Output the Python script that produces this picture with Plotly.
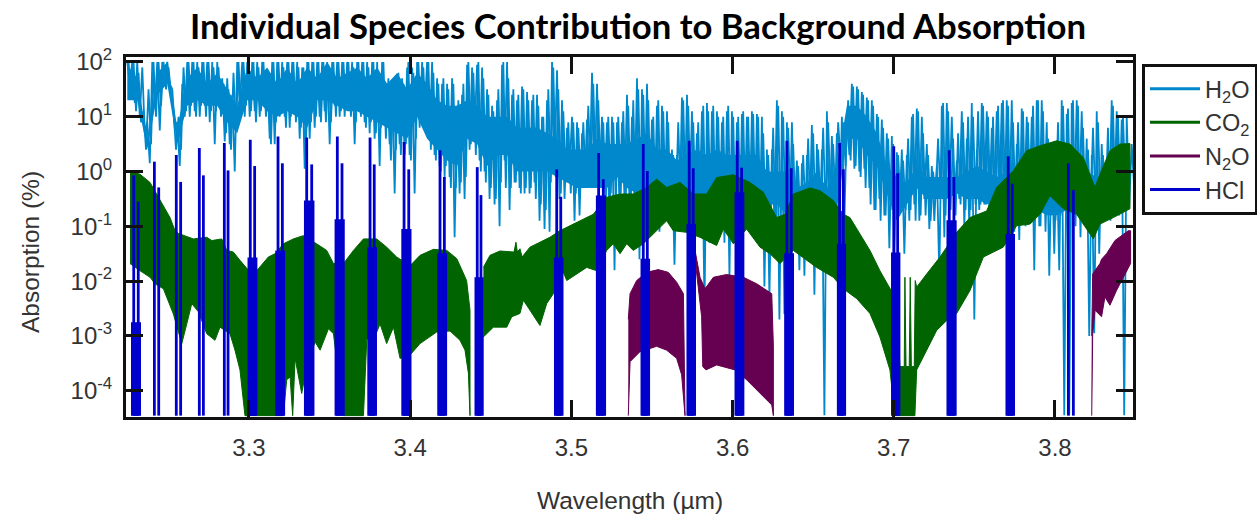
import numpy as np
import plotly.graph_objects as go

# All absorption values below are log10(absorption %).
FLOOR = -4.455
START_UM = 3.2245
STEP_UM = 0.0031

h2o_peak = [2,2,2,1.9,.9,2,2,2,2,1.5,.9,1.6,2,2,2,2,2,2,2,1.7,1.7,1.4,2,2,2,2,2,2,1.8,2,
 2,2,2,2,2,1.9,2,2,2,2,2,2,2,2,2,2,2,2,2,2,2,2,1.6,1.6,1.7,1.7,1.9,1.9,2,2,
 2,2,1.7,1.6,1.6,1.7,1.2,1.4,1.95,1.9,1.95,1.9,1.5,1.2,1.3,1.95,2,1.4,1.3,1.55,1.45,1.3,1.4,1.0,1.3,2,1.85,1.3,.8,1.0,
 .9,.7,.95,1.8,1.6,1.0,.9,1.0,.9,.9,1.4,1.0,1.7,1.5,1.6,.95,1.2,1.2,1.1,.4,.3,1.35,1.4,1.1,.7,1.1,1.25,1.1,1.1,.9,
 1.1,1.1,.9,1.05,1.0,1.1,1.05,1.0,.4,.4,1.3,1.1,.9,.9,.2,.15,.3,.85,.5,.4,1.1,.65,.7,1.0,1.0,1.6,1.55,1.45,1.35,1.3,
 1.05,.95,.7,.65,.35,.4,.3,1.0,1.15,1.0,.5,.1,.1,1.2,1.25,1.0,.2,1.1,.6,1.25,.4,1.25,1.1,.8,1.1,1.25,1.3,1.3,.5,1.15,
 1.0,1.0,1.3,1.3,.9,.4,.3,1.3,1.05,1.25,1.3,1.1,.6,.3,1.1,.5,.1,1.3,1.1,.95,1.0,.5]
h2o_dip = [1.6,1.25,1.0,.7,.15,1.15,.75,1.6,1.6,.8,.1,1.0,1.0,1.1,1.0,1.2,.9,.5,1.2,.55,.5,0,1.2,1.0,1.0,1.1,1.0,1.3,.6,.5,
 1.0,1.0,.8,1.1,.6,.05,.6,.8,1.0,1.1,.5,1.2,1.0,1.0,1.3,.5,1.1,.9,.7,.6,.1,1.1,.5,-.4,.5,.3,.3,-.4,.8,1.1,
 .6,.3,.1,-.1,-.1,-1.2,-.4,-.5,.4,.7,.2,0,-.5,-.6,-1.0,.2,-.7,-.2,-.3,-.4,-.4,-.2,-.9,-1.05,-1.1,.2,-.5,-.5,0,-.9,
 -.8,-.3,-.2,-.1,-.1,-.3,-.9,-1.8,-.6,-.5,-.6,-.6,-1.6,-.7,-.5,-.8,-1.1,-.9,-.9,-1.7,-.8,-.8,-.6,-.6,-.8,-2.5,-1.3,-1.3,-1.2,-1.3,
 -1.9,-1.3,-1.3,-1.0,-1.0,-1.2,-1.3,-2.1,-2.3,-.9,-2.7,-2.6,-1.2,-.8,-1.8,-1.9,-1.0,-2.25,-1.3,-4.45,-1.0,-1.0,-1.0,-.9,.3,.05,0,.05,-.3,-.7,
 -.5,-.8,-1.4,-1.5,-.8,-1.5,-.9,-.6,-.9,-.5,-1.05,-.9,-1.9,-1.2,-.4,-.6,-.5,-1.0,-1.0,-2.7,-.7,-.6,-.7,-.5,-.5,-1.0,-.8,-1.1,-1.25,-.6,
 -.7,-1.8,-1.0,-.6,-1.9,-1.5,-1.8,-4.45,-4.45,-.7,-.5,-.9,-3.0,-2.95,-1.5,-.9,-.7,-.6,-.8,-4.45,-.6,-.3]
# second reading, between the peaks above
h2o_peak2 = [2,2,1.8,1.1,1.5,2,2,2,1.9,1.1,1.0,1.9,2,2,1.9,2,2,1.9,1.9,1.6,1.5,1.8,2,2,2,2,1.9,2,1.7,2,
 2,1.9,2,2,1.9,1.9,2,2,2,2,1.9,2,2,2,2,1.9,2,2,1.9,2,1.7,2,1.7,1.5,1.8,1.6,2,1.8,2,1.9,
 2,1.8,1.6,1.7,1.5,1.6,1.3,1.6,2,1.8,2,1.7,1.4,1.1,1.5,2,1.7,1.5,1.4,1.5,1.3,1.4,1.2,1.0,1.5,1.9,1.5,1.1,.9,.9,
 .8,.9,1.2,1.6,1.3,.9,1.0,.9,1.0,1.1,1.2,1.3,1.5,1.4,1.3,1.0,1.3,1.1,.9,.3,.9,1.3,1.2,.9,.9,1.2,1.1,1.2,1.0,1.0,
 1.2,1.0,1.0,1.1,1.0,1.05,1.0,.7,.3,.8,1.2,1.0,.8,.5,.1,.3,.6,.7,.4,.8,.9,.5,.9,.9,1.3,1.55,1.5,1.4,1.3,1.2,
 1.0,.8,.6,.5,.3,.2,.6,1.05,1.1,.7,.3,.0,.6,1.25,1.1,.6,.7,.9,1.0,1.0,1.1,1.2,1.0,1.0,1.2,1.3,1.2,.9,.9,1.1,
 .9,1.2,1.3,1.1,.6,.2,.9,1.2,1.15,1.3,1.2,.8,.4,.8,.9,.3,.8,1.2,1.0,1.0,.9,.6]
h2o_dip2 = [1.4,1.1,.9,.4,.5,1.0,1.2,1.5,1.4,.4,.4,1.1,1.2,1.0,1.2,1.0,1.1,1.1,1.0,.7,.4,.8,1.1,1.2,1.1,.9,1.1,1.0,.5,.9,
 1.1,.8,1.0,.9,.8,.5,.9,1.0,.9,.9,.9,1.0,1.1,1.2,1.0,.9,1.0,.8,.9,.7,.8,.6,.2,.4,.3,.5,.2,.6,.9,.7,
 .4,.2,.0,.1,-.3,-.3,-.2,-.1,.5,.3,.0,-.2,-.3,-.5,-.2,-.3,-.3,-.2,-.4,-.3,-.3,-.5,-.6,-.7,-.2,-.1,-.4,-.2,-.4,-.4,
 -.3,-.2,-.1,-.2,-.2,-.6,-.4,-.5,-.4,-.5,-.6,-.7,-.5,-.6,-.6,-.7,-.7,-.8,-1.0,-.7,-.6,-.7,-.6,-.7,-1.0,-1.0,-.9,-1.0,-.9,-1.0,
 -1.0,-1.1,-.9,-1.0,-.9,-1.0,-1.2,-.9,-.8,-1.2,-.9,-1.0,-.7,-.9,-1.0,-.8,-1.0,-1.0,-.7,-.8,-.5,-.6,.2,.1,.2,.1,-.1,-.3,
 -.6,-.7,-.9,-.8,-.7,-.8,-.6,-.7,-.7,-.9,-.8,-.8,-.9,-.5,-.5,-.8,-.7,-.8,-.6,-.7,-.7,-.6,-.6,-.6,-.8,-.9,-.8,-.9,-.9,-.7,
 -.7,-1.0,-.8,-.7,-1.0,-1.1,-.8,-.9,-.8,-.6,-.7,-1.0,-1.2,-.8,-.8,-.6,-.6,-.7,-.9,-.7,-.5,-.3]
h2o_body_top = [1.95,1.7,.6,1.8,2,.8,1.7,1.9,1.6,1.8,1.5,1.2,1.9,1.7,1.9,1.6,1.9,1.6,1.9,1.7,2,1.7,1.8,1.9,1.7,1.9,1.6,1.8,1.5,1.8,
 1.6,1.3,1.2,1.2,1.3,1.2,1.0,1.0,1.0,.8,.8,.8,.7,.6,.4,.4,.4,.6,.5,.5,.5,.6,.7,.4,.4,.2,.3,.4,.3,.4,
 .3,.3,.3,.3,.0,.0,.0,-.3,-.2,.0,-.3,.1,1.2,1.2,1.0,.7,.1,-.1,-.2,.1,-.1,-.1,-.1,-.1,0,.1,0,-.1,0,-.2,
 0,-.3,-.2,-.3,0,-.1,0,-.1,-.1,0,-.1]
h2o_body_bottom = [1.3,1.3,.4,1.4,1.6,.5,1.2,1.3,1.2,1.2,.9,.7,1.3,1.3,1.1,1.0,1.1,1.0,.8,1.3,1.3,1.2,1.1,1.1,1.0,.9,.8,.7,.6,1.0,
 .6,.4,.2,.1,.6,.5,.1,.3,.3,0,0,0,0,-.1,-.2,-.3,-.3,-.3,-.3,-.1,-.3,-.4,-.5,-.6,-.5,-.6,-.6,-.6,-.6,-.6,
 -.7,-.7,-.7,-.8,-.6,-.6,-.8,-.7,-.7,-.5,-.6,-.7,.6,.6,.3,.1,-.4,-.9,-.6,-.3,-.5,-.5,-.5,-.4,-.5,-.5,-.6,-.5,-.6,-.5,
 -.7,-.7,-.8,-.8,-.7,-.5,-.5,-.5,-.6,-.5,-.3]

co2a_top_x = [3.2262,3.2324,3.2386,3.2448,3.2510,3.2541,3.2562,3.2655,3.2738,3.2769,3.2831,3.2862,3.2903,3.2944,3.2990,3.3048,3.3120,3.3162,3.3213,3.3275,3.3337,3.3420,3.3482,3.3524,3.3586,3.3648,3.3710,3.3792,3.3854,3.3916,3.3999,3.4061,3.4144,3.4227,3.4289,3.4309,3.4350,3.4371]
co2a_top = [.01,-.05,-.2,-.53,-.84,-1.08,-1.13,-1.23,-1.2,-1.26,-1.23,-1.44,-1.47,-1.62,-1.78,-1.81,-1.56,-1.5,-1.32,-1.23,-1.17,-1.32,-1.44,-1.68,-1.68,-1.44,-1.23,-1.23,-1.38,-1.56,-1.72,-1.53,-1.42,-1.44,-1.59,-1.72,-1.99,-2.53]
co2a_low_x = [3.2262,3.2324,3.2386,3.2417,3.2469,3.2531,3.2583,3.2614,3.2645,3.2686,3.2738,3.2789,3.2820,3.2882,3.2913,3.2944,3.2975,3.3069,3.3213,3.3234,3.3255,3.3271,3.3286,3.3327,3.3358,3.3410,3.3441,3.3493,3.3524,3.3586,3.3710,3.3731,3.3772,3.3813,3.3854,3.3896,3.3937,3.3999,3.4061,3.4164,3.4247,3.4309,3.4340,3.4361,3.4371]
co2a_low = [-1.68,-1.81,-1.93,-2.05,-2.14,-2.6,-3.14,-2.78,-2.41,-2.56,-2.96,-3.08,-2.84,-2.96,-3.26,-3.62,FLOOR,FLOOR,FLOOR,-3.8,-3.75,FLOOR,-3.41,-4.05,-3.56,-3.11,-3.26,-2.87,-2.96,FLOOR,FLOOR,-3.05,-3.08,-2.78,-3.14,-2.84,-3.41,-3.35,-3.14,-2.93,-2.91,-3.08,-3.26,-3.68,FLOOR]

co2b_top_x = [3.4454,3.4495,3.4557,3.4619,3.4644,3.4656,3.4665,3.4681,3.4694,3.4743,3.4805,3.4867,3.4929,3.4991,3.5053,3.5136,3.5219,3.5302,3.5385,3.5467,3.5529,3.5591,3.5674,3.5757,3.5839,3.5901,3.6005,3.6108,3.6191,3.6273,3.6325,3.6377,3.6480,3.6542,3.6625,3.6687,3.6728,3.6790,3.6852,3.6914,3.6976,3.7018,3.7038,3.7065,3.7069,3.7076,3.7096,3.7102,3.7109,3.7127,3.7133,3.7142,3.7204,3.7287,3.7390,3.7473,3.7576,3.7638,3.7741,3.7824,3.7907,3.8010,3.8093,3.8176,3.8248,3.8279,3.8341,3.8403,3.8465]
co2b_top = [-1.75,-1.53,-1.45,-1.46,-1.47,-1.29,-1.47,-1.41,-1.56,-1.38,-1.29,-1.2,-1.08,-.99,-.9,-.78,-.47,-.41,-.41,-.29,-.14,-.29,-.2,-.41,-.41,-.11,-.06,-.2,-.38,-.84,-.78,-.41,-.3,-.35,-.53,-.78,-.84,-1.14,-1.44,-1.81,-2.14,-2.35,-3.56,-3.56,-1.93,-3.56,-3.56,-1.93,-3.56,-3.56,-1.99,-2.11,-1.87,-1.56,-1.11,-.84,-.72,-.29,.01,.38,.47,.56,.5,.25,-.29,-.05,.38,.5,.51]
co2b_low_x = [3.4454,3.4516,3.4599,3.4630,3.4681,3.4702,3.4743,3.4805,3.4847,3.4888,3.4929,3.4971,3.5033,3.5095,3.5157,3.5219,3.5260,3.5302,3.5343,3.5384,3.5446,3.5550,3.5591,3.5632,3.5715,3.5798,3.5839,3.5901,3.5943,3.6005,3.6087,3.6170,3.6232,3.6294,3.6377,3.6460,3.6521,3.6625,3.6687,3.6770,3.6852,3.6914,3.6976,3.7007,3.7131,3.7142,3.7204,3.7266,3.7328,3.7390,3.7473,3.7556,3.7618,3.7679,3.7762,3.7845,3.7907,3.7969,3.8052,3.8134,3.8238,3.8279,3.8362,3.8465]
co2b_low = [-3.02,-2.84,-2.84,-2.65,-2.59,-2.35,-2.53,-2.81,-2.41,-2.23,-1.68,-1.99,-1.87,-1.75,-1.81,-1.44,-1.32,-1.5,-1.32,-1.44,-1.32,-1.02,-.9,-1.08,-1.11,-1.2,-1.26,-1.35,-1.05,-1.32,-1.05,-1.38,-1.5,-1.68,-1.44,-1.62,-1.75,-1.93,-2.14,-2.32,-2.59,-3.02,-3.62,FLOOR,FLOOR,-3.62,-3.26,-2.9,-2.72,-2.59,-2.17,-1.56,-1.47,-1.38,-.99,-.96,-.78,-.44,-.68,-.78,-1.23,-.96,-.84,-.68]

n2oa_top_x = [3.5353,3.5364,3.5405,3.5467,3.5539,3.5601,3.5653,3.5695]
n2oa_top = [-2.7,-2.23,-1.99,-1.84,-1.79,-1.84,-2.02,-2.23]
n2oa_low_x = [3.5353,3.5364,3.5425,3.5529,3.5591,3.5653,3.5684,3.5705]
n2oa_low = [FLOOR,-3.47,-3.29,-3.19,-3.26,-3.41,-3.71,FLOOR]
n2ob_top_x = [3.5767,3.5798,3.5829,3.5881,3.5963,3.6067,3.6150,3.6243,3.6253]
n2ob_top = [-1.44,-1.93,-2.14,-1.93,-1.88,-1.93,-2.05,-2.23,-3.19]
n2ob_low_x = [3.5767,3.5808,3.5815,3.5835,3.5901,3.6015,3.6087,3.6170,3.6243,3.6253]
n2ob_low = [-1.6,-2.65,-3.56,-3.62,-3.53,-3.62,-3.8,-4.05,-4.26,FLOOR]
n2oc_top_x = [3.8228,3.8234,3.8279,3.8289,3.8320,3.8372,3.8455,3.8469]
n2oc_top = [-3.0,-1.87,-1.68,-1.6,-1.5,-1.26,-1.08,-1.08]
n2oc_low_x = [3.8228,3.8234,3.8248,3.8289,3.8310,3.8341,3.8382,3.8424,3.8469]
n2oc_low = [FLOOR,-2.96,-2.53,-2.65,-2.29,-2.44,-2.17,-1.93,-1.68]

hcl_x1 = [3.2285,3.2413,3.2549,3.2692,3.2847,3.3008,3.3180,3.3358,3.3548,3.3751,3.3962,3.4185,3.4416,3.4909,3.5169,3.5446,3.5731,3.6029,3.6337,3.6664,3.7000,3.7344,3.7710,3.8083]
hcl_x2 = [3.2313,3.2440,3.2576,3.2717,3.2870,3.3035,3.3207,3.3389,3.3577,3.3777,3.3991,3.4212,3.4439,3.4934,3.5198,3.5471,3.5756,3.6056,3.6364,3.6687,3.7024,3.7373,3.7735,3.8114]
hcl_y1 = [-.07,.18,.3,.43,.52,.58,.64,.62,.64,.62,.54,.39,.08,.04,.34,.5,.56,.56,.56,.52,.46,.39,.28,.15]
hcl_y2 = [-.55,-.29,-.19,-.07,.02,.1,.15,.13,.15,.13,.04,-.1,-.43,-.46,-.14,.01,.06,.07,.06,.04,-.03,-.1,-.22,-.34]
hcl_merge = [-2.8,FLOOR,FLOOR,FLOOR,FLOOR,-1.62,-1.49,-.58,-.92,-1.43,-1.1,-1.54,-1.98,-1.62,-.49,-1.64,-1.01,-.43,-1.54,-1.37,-1.53,-.94,-1.19,FLOOR]

y_tick_exp = [2, 1, 0, -1, -2, -3, -4]
x_ticks = [3.3, 3.4, 3.5, 3.6, 3.7, 3.8]

BLUE, GREEN, PURPLE, NAVY = "#0088cc", "#006400", "#660050", "#0000cc"
TXT = "#333333"
PAGE_W, PAGE_H = 1275, 514  # a little wider than the window so the legend does not squeeze the plot


def to_pct(v):
    return [None if a is None else 10 ** a for a in v]


def band(top_x, top, low_x, low):
    return list(top_x) + list(low_x)[::-1] + [None], list(top) + list(low)[::-1] + [None]


fig = go.Figure()

# H2O: solid core plus two alternating peak / dip zigzags
zx, zy = [], []
for i in range(min(len(h2o_peak), len(h2o_dip))):
    zx += [START_UM + i * STEP_UM, START_UM + (i + 0.5) * STEP_UM]
    zy += [h2o_peak[i], h2o_dip[i]]
zx2, zy2 = [], []
for i in range(min(len(h2o_peak2), len(h2o_dip2))):
    zx2 += [START_UM + (i + 0.25) * STEP_UM, START_UM + (i + 0.75) * STEP_UM]
    zy2 += [h2o_peak2[i], h2o_dip2[i]]
m = min(len(h2o_body_top), len(h2o_body_bottom))
bx = [START_UM + i * STEP_UM * 2 for i in range(m)]
px, py = band(bx, h2o_body_top, bx, h2o_body_bottom)
fig.add_trace(go.Scatter(x=px, y=to_pct(py), mode="lines", fill="toself", fillcolor=BLUE,
                         line=dict(color=BLUE, width=0), showlegend=False, hoverinfo="skip"))
fig.add_trace(go.Scatter(x=zx2, y=to_pct(zy2), mode="lines", line=dict(color=BLUE, width=1.8),
                         showlegend=False))
fig.add_trace(go.Scatter(x=zx, y=to_pct(zy), mode="lines", line=dict(color=BLUE, width=1.8),
                         showlegend=False))

# CO2
ax, ay = band(co2a_top_x, co2a_top, co2a_low_x, co2a_low)
cx, cy = band(co2b_top_x, co2b_top, co2b_low_x, co2b_low)
fig.add_trace(go.Scatter(x=ax + cx, y=to_pct(ay + cy), mode="lines", fill="toself", fillcolor=GREEN,
                         line=dict(color=GREEN, width=1), showlegend=False))

# N2O
ax, ay = band(n2oa_top_x, n2oa_top, n2oa_low_x, n2oa_low)
bx2, by2 = band(n2ob_top_x, n2ob_top, n2ob_low_x, n2ob_low)
cx, cy = band(n2oc_top_x, n2oc_top, n2oc_low_x, n2oc_low)
fig.add_trace(go.Scatter(x=ax + bx2 + cx, y=to_pct(ay + by2 + cy), mode="lines", fill="toself",
                         fillcolor=PURPLE, line=dict(color=PURPLE, width=1), showlegend=False))

# HCl: doublets
sx, sy, mx, my = [], [], [], []
for x1, x2, y1, y2, lvl in zip(hcl_x1, hcl_x2, hcl_y1, hcl_y2, hcl_merge):
    sx += [x1, x1, None, x2, x2, None]
    sy += [FLOOR, y1, None, FLOOR, y2, None]
    if lvl > FLOOR:
        mx += [x1, x1, x2, x2, None]
        my += [FLOOR, lvl, lvl, FLOOR, None]
fig.add_trace(go.Scatter(x=mx, y=to_pct(my), mode="lines", fill="toself", fillcolor=NAVY,
                         line=dict(color=NAVY, width=5.5), showlegend=False))
fig.add_trace(go.Scatter(x=sx, y=to_pct(sy), mode="lines", line=dict(color=NAVY, width=2.8),
                         showlegend=False))

# legend
for name, col in [("H<sub>2</sub>O", BLUE), ("CO<sub>2</sub>", GREEN), ("N<sub>2</sub>O", PURPLE), ("HCl", NAVY)]:
    fig.add_trace(go.Scatter(x=[None], y=[None], mode="lines", name=name, line=dict(color=col, width=3)))

axis = dict(showgrid=False, zeroline=False, showline=True, linecolor="#111111", linewidth=3, mirror="ticks",
            ticks="inside", ticklen=17, tickwidth=2.5, tickcolor="#111111",
            tickfont=dict(family="Liberation Sans", size=24, color=TXT))
L, R, T, B = 126, 1133, 57, 417  # plot frame inside the figure
fig.update_layout(
    width=PAGE_W, height=PAGE_H, autosize=False, paper_bgcolor="white", plot_bgcolor="white",
    margin=dict(l=L, r=PAGE_W - R, t=T, b=PAGE_H - B),
    font=dict(family="Liberation Sans", color=TXT),
    title=dict(text="<b>Individual Species Contribution to Background Absorption</b>",
               font=dict(family="Lato", size=34.7, color="#000000"), x=638 / PAGE_W, xanchor="center",
               y=1 - 27 / PAGE_H, yanchor="middle"),
    xaxis=dict(axis, type="linear", range=[3.2237, 3.8484], tickmode="array", tickvals=x_ticks,
               ticktext=[f"{v:.1f}" for v in x_ticks], ticklabelstandoff=7),
    yaxis=dict(axis, type="log", range=[-4.48, 2.09], tickmode="array", tickvals=[10.0 ** e for e in y_tick_exp],
               ticktext=[f"10<sup>{e}</sup>" for e in y_tick_exp], ticklabelstandoff=6),
    legend=dict(x=(1142 - L) / (R - L), y=(B - 64) / (B - T), xanchor="left", yanchor="top",
                bordercolor="#111111", borderwidth=3, bgcolor="white",
                font=dict(family="Liberation Sans", size=23.5, color=TXT), itemwidth=50, tracegroupgap=0),
    annotations=[
        dict(text="Wavelength (µm)", xref="paper", yref="paper", x=(630 - L) / (R - L),
             y=(B - 500) / (B - T), xanchor="center", yanchor="middle", showarrow=False,
             font=dict(size=24.5, color=TXT)),
        dict(text="Absorption (%)", xref="paper", yref="paper", x=(30 - L) / (R - L),
             y=(B - 252) / (B - T), xanchor="center", yanchor="middle", showarrow=False, textangle=-90,
             font=dict(size=24.5, color=TXT)),
    ],
)
fig.write_html("out.html", config={"displayModeBar": False},
               post_script="document.body.style.margin='0';document.documentElement.style.overflow='hidden';")
